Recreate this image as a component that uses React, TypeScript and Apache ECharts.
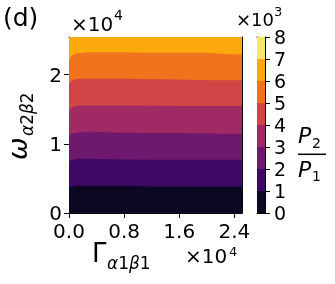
import React, { useEffect, useRef } from "react";
import * as echarts from "echarts";

// Γ (×10^4) sample positions
const gammaX = [0, 0.02, 0.06, 0.12, 0.3, 0.8, 1.2, 1.6, 2.0, 2.3, 2.51];
// ω (×10^4) of each contour boundary, level k (×10^3) of P2/P1
const boundary1 = [0.36, 0.375, 0.385, 0.395, 0.395, 0.395, 0.385, 0.385, 0.38, 0.38, 0.38];
const boundary2 = [0.745, 0.76, 0.77, 0.78, 0.785, 0.775, 0.771, 0.771, 0.771, 0.771, 0.771];
const boundary3 = [1.12, 1.135, 1.15, 1.16, 1.175, 1.16, 1.157, 1.157, 1.15, 1.147, 1.147];
const boundary4 = [1.48, 1.51, 1.535, 1.55, 1.555, 1.555, 1.55, 1.547, 1.547, 1.547, 1.547];
const boundary5 = [1.87, 1.9, 1.925, 1.94, 1.942, 1.942, 1.935, 1.932, 1.918, 1.918, 1.918];
const boundary6 = [2.2, 2.25, 2.29, 2.31, 2.325, 2.325, 2.318, 2.318, 2.318, 2.294, 2.294];
const omegaMax = 2.545;
const gammaMax = 2.51;

const xTicks = [0, 0.8, 1.6, 2.4];
const yTicks = [0, 1, 2];
const levels = [0, 1, 2, 3, 4, 5, 6, 7, 8];
const bandColors = ["#0c0824", "#3d0965", "#6f196e", "#a02a63", "#d04546", "#f0731e", "#fca90e", "#f2e96b"];

const FONT = "DejaVu Sans";

export default function App() {
  const ref = useRef<HTMLDivElement>(null);
  useEffect(() => {
    if (!ref.current) return;
    const chart = echarts.init(ref.current, null, { renderer: "svg" });

    const boundaries = [boundary1, boundary2, boundary3, boundary4, boundary5, boundary6, gammaX.map(() => omegaMax)];
    // draw from top band downward so lower bands cover upper fills
    const contourSeries: any[] = [];
    for (let k = boundaries.length - 1; k >= 0; k--) {
      const b = boundaries[k];
      contourSeries.push({
        type: "line",
        xAxisIndex: 0,
        yAxisIndex: 0,
        data: gammaX.map((g, i) => [g, b[i]]),
        symbol: "none",
        lineStyle: { width: 0, opacity: 0 },
        areaStyle: { color: bandColors[k], opacity: 1, origin: "start" },
        silent: true,
      });
    }

    const barSeries = levels.slice(0, -1).map((lv, k) => ({
      type: "bar",
      xAxisIndex: 2,
      yAxisIndex: 2,
      stack: "cb",
      barWidth: "100%",
      data: [levels[k + 1] - lv],
      itemStyle: { color: bandColors[k] },
      silent: true,
    }));

    const lineStyle = { color: "#000", width: 1 };
    const tickLabel = { fontSize: 20, color: "#000", fontFamily: FONT };

    const option: any = {
      animation: false,
      grid: [
        { left: 69, top: 37, width: 173, height: 176 },
        { left: 257, top: 37, width: 8, height: 176 },
      ],
      xAxis: [
        {
          type: "value", gridIndex: 0, position: "bottom", min: 0, max: gammaMax,
          axisLine: { show: true, onZero: false, lineStyle },
          axisTick: { show: true, length: 5, lineStyle, customValues: xTicks },
          axisLabel: { ...tickLabel, margin: 9, lineHeight: 18, customValues: xTicks, formatter: (v: number) => v.toFixed(1) },
          splitLine: { show: false },
        },
        {
          type: "value", gridIndex: 0, position: "top", min: 0, max: gammaMax,
          axisLine: { show: true, onZero: false, lineStyle },
          axisTick: { show: false }, axisLabel: { show: false }, splitLine: { show: false },
        },
        {
          type: "category", gridIndex: 1, position: "bottom", data: ["cb"],
          axisLine: { show: true, onZero: false, lineStyle },
          axisTick: { show: false }, axisLabel: { show: false }, splitLine: { show: false },
        },
        {
          type: "category", gridIndex: 1, position: "top", data: ["cb"],
          axisLine: { show: true, onZero: false, lineStyle },
          axisTick: { show: false }, axisLabel: { show: false }, splitLine: { show: false },
        },
      ],
      yAxis: [
        {
          type: "value", gridIndex: 0, position: "left", min: 0, max: omegaMax,
          axisLine: { show: true, onZero: false, lineStyle },
          axisTick: { show: true, length: 5, lineStyle, customValues: yTicks },
          axisLabel: { ...tickLabel, margin: 7, lineHeight: 16, customValues: yTicks, formatter: (v: number) => String(v) },
          splitLine: { show: false },
        },
        {
          type: "value", gridIndex: 0, position: "right", min: 0, max: omegaMax,
          axisLine: { show: true, onZero: false, lineStyle },
          axisTick: { show: false }, axisLabel: { show: false }, splitLine: { show: false },
        },
        {
          type: "value", gridIndex: 1, position: "right", min: 0, max: 8, interval: 1,
          axisLine: { show: true, onZero: false, lineStyle },
          axisTick: { show: true, length: 5, lineStyle },
          axisLabel: { ...tickLabel, fontSize: 19, margin: 9 },
          splitLine: { show: false },
        },
        {
          type: "value", gridIndex: 1, position: "left", min: 0, max: 8, interval: 1,
          axisLine: { show: true, onZero: false, lineStyle },
          axisTick: { show: false }, axisLabel: { show: false }, splitLine: { show: false },
        },
      ],
      series: [...contourSeries, ...barSeries],
      graphic: [
        { type: "text", left: 3, top: 5, style: { text: "(d)", fontSize: 25, fontFamily: FONT, fill: "#000" } },
        // top-left offset ×10^4
        { type: "text", x: 71, y: 24, style: { text: "×10", fontSize: 20, fontFamily: FONT, fill: "#000", verticalAlign: "middle" } },
        { type: "text", x: 114, y: 15, style: { text: "4", fontSize: 14, fontFamily: FONT, fill: "#000", verticalAlign: "middle" } },
        // colorbar offset ×10^3
        { type: "text", x: 236, y: 19.5, style: { text: "×10", fontSize: 18, fontFamily: FONT, fill: "#000", verticalAlign: "middle" } },
        { type: "text", x: 274, y: 11, style: { text: "3", fontSize: 13, fontFamily: FONT, fill: "#000", verticalAlign: "middle" } },
        // bottom-right offset ×10^4
        { type: "text", x: 185, y: 256, style: { text: "×10", fontSize: 20, fontFamily: FONT, fill: "#000", verticalAlign: "middle" } },
        { type: "text", x: 229, y: 251, style: { text: "4", fontSize: 13, fontFamily: FONT, fill: "#000", verticalAlign: "middle" } },
        // x label Γ_{α1β1}
        { type: "text", x: 92, y: 252.5, style: { text: "Γ", fontSize: 26, fontFamily: FONT, fill: "#000", verticalAlign: "middle" } },
        {
          type: "text", x: 107, y: 262.5,
          style: {
            text: "{g|α}{d|1}{g|β}{d|1}", verticalAlign: "middle", fill: "#000",
            rich: {
              g: { fontSize: 17, fontFamily: FONT, fontStyle: "italic", fill: "#000" },
              d: { fontSize: 17, fontFamily: FONT, fill: "#000" },
            },
          },
        },
        // y label ω_{α2β2}
        {
          type: "group", x: 17, y: 160, rotation: Math.PI / 2,
          children: [
            { type: "text", x: 0, y: 0, style: { text: "ω", fontSize: 27, fontFamily: FONT, fontStyle: "italic", fill: "#000", verticalAlign: "middle" } },
            {
              type: "text", x: 24, y: 10,
              style: {
                text: "{g|α}{d|2}{g|β}{d|2}", verticalAlign: "middle", fill: "#000",
                rich: {
                  g: { fontSize: 17, fontFamily: FONT, fontStyle: "italic", fill: "#000" },
                  d: { fontSize: 17, fontFamily: FONT, fill: "#000" },
                },
              },
            },
          ],
        },
        // P2 / P1
        { type: "text", x: 298, y: 135.5, style: { text: "P", fontSize: 22, fontFamily: FONT, fontStyle: "italic", fill: "#000", verticalAlign: "middle" } },
        { type: "text", x: 312, y: 142.5, style: { text: "2", fontSize: 14, fontFamily: FONT, fill: "#000", verticalAlign: "middle" } },
        { type: "line", shape: { x1: 298, y1: 154.3, x2: 326, y2: 154.3 }, style: { stroke: "#000", lineWidth: 1.5 } },
        { type: "text", x: 298, y: 169.5, style: { text: "P", fontSize: 22, fontFamily: FONT, fontStyle: "italic", fill: "#000", verticalAlign: "middle" } },
        { type: "text", x: 312, y: 175.5, style: { text: "1", fontSize: 14, fontFamily: FONT, fill: "#000", verticalAlign: "middle" } },
      ],
    };
    chart.setOption(option);
    return () => chart.dispose();
  }, []);
  return <div ref={ref} style={{ position: "fixed", left: 0, top: 0, width: 335, height: 284 }} />;
}
